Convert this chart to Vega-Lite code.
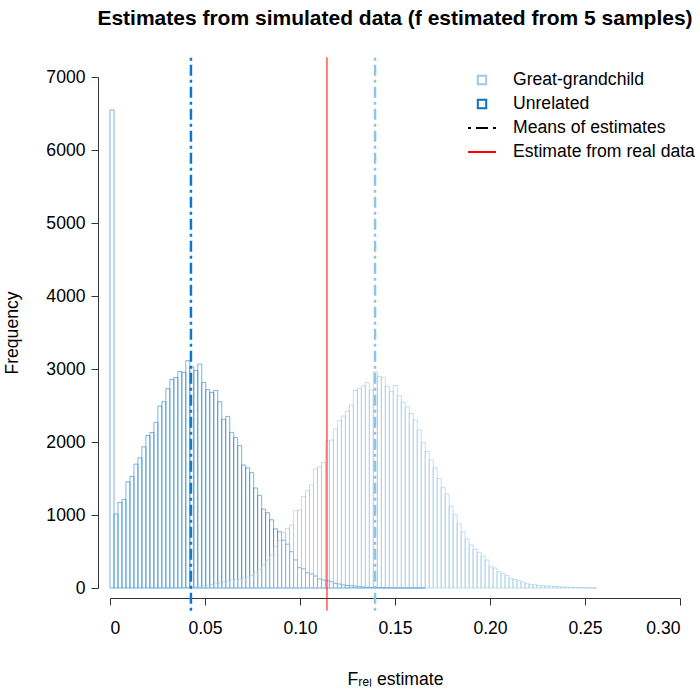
{
  "$schema": "https://vega.github.io/schema/vega-lite/v6.json",
  "autosize": {"type": "none"},
  "padding": {"left": 110, "top": 77, "right": 20, "bottom": 104},
  "width": 570,
  "height": 511,
  "title": {"text": "Estimates from simulated data (f estimated from 5 samples)", "font": "Liberation Sans", "fontSize": 21, "fontWeight": "bold", "color": "#000", "anchor": "middle", "offset": 27},
  "datasets": {
    "hist": [
      {"g":"Unrelated","x0":0,"x1":0.0021,"n":6550},
      {"g":"Unrelated","x0":0.0021,"x1":0.0042,"n":1014},
      {"g":"Unrelated","x0":0.0042,"x1":0.0063,"n":1172},
      {"g":"Unrelated","x0":0.0063,"x1":0.0084,"n":1215},
      {"g":"Unrelated","x0":0.0084,"x1":0.0105,"n":1455},
      {"g":"Unrelated","x0":0.0105,"x1":0.0126,"n":1530},
      {"g":"Unrelated","x0":0.0126,"x1":0.0147,"n":1697},
      {"g":"Unrelated","x0":0.0147,"x1":0.0168,"n":1783},
      {"g":"Unrelated","x0":0.0168,"x1":0.0189,"n":1934},
      {"g":"Unrelated","x0":0.0189,"x1":0.021,"n":2089},
      {"g":"Unrelated","x0":0.021,"x1":0.0231,"n":2130},
      {"g":"Unrelated","x0":0.0231,"x1":0.0252,"n":2270},
      {"g":"Unrelated","x0":0.0252,"x1":0.0273,"n":2493},
      {"g":"Unrelated","x0":0.0273,"x1":0.0294,"n":2552},
      {"g":"Unrelated","x0":0.0294,"x1":0.0315,"n":2730},
      {"g":"Unrelated","x0":0.0315,"x1":0.0336,"n":2858},
      {"g":"Unrelated","x0":0.0336,"x1":0.0357,"n":2884},
      {"g":"Unrelated","x0":0.0357,"x1":0.0378,"n":2965},
      {"g":"Unrelated","x0":0.0378,"x1":0.0399,"n":2954},
      {"g":"Unrelated","x0":0.0399,"x1":0.042,"n":3114},
      {"g":"Unrelated","x0":0.042,"x1":0.0441,"n":3030},
      {"g":"Unrelated","x0":0.0441,"x1":0.0462,"n":2980},
      {"g":"Unrelated","x0":0.0462,"x1":0.0483,"n":3068},
      {"g":"Unrelated","x0":0.0483,"x1":0.0504,"n":2815},
      {"g":"Unrelated","x0":0.0504,"x1":0.0525,"n":2717},
      {"g":"Unrelated","x0":0.0525,"x1":0.0546,"n":2680},
      {"g":"Unrelated","x0":0.0546,"x1":0.0567,"n":2705},
      {"g":"Unrelated","x0":0.0567,"x1":0.0588,"n":2552},
      {"g":"Unrelated","x0":0.0588,"x1":0.0609,"n":2311},
      {"g":"Unrelated","x0":0.0609,"x1":0.063,"n":2350},
      {"g":"Unrelated","x0":0.063,"x1":0.0651,"n":2132},
      {"g":"Unrelated","x0":0.0651,"x1":0.0672,"n":2060},
      {"g":"Unrelated","x0":0.0672,"x1":0.0693,"n":1950},
      {"g":"Unrelated","x0":0.0693,"x1":0.0714,"n":1685},
      {"g":"Unrelated","x0":0.0714,"x1":0.0735,"n":1645},
      {"g":"Unrelated","x0":0.0735,"x1":0.0756,"n":1580},
      {"g":"Unrelated","x0":0.0756,"x1":0.0777,"n":1370},
      {"g":"Unrelated","x0":0.0777,"x1":0.0798,"n":1270},
      {"g":"Unrelated","x0":0.0798,"x1":0.0819,"n":1080},
      {"g":"Unrelated","x0":0.0819,"x1":0.084,"n":1032},
      {"g":"Unrelated","x0":0.084,"x1":0.0861,"n":935},
      {"g":"Unrelated","x0":0.0861,"x1":0.0882,"n":810},
      {"g":"Unrelated","x0":0.0882,"x1":0.0903,"n":770},
      {"g":"Unrelated","x0":0.0903,"x1":0.0924,"n":655},
      {"g":"Unrelated","x0":0.0924,"x1":0.0945,"n":600},
      {"g":"Unrelated","x0":0.0945,"x1":0.0966,"n":497},
      {"g":"Unrelated","x0":0.0966,"x1":0.0987,"n":384},
      {"g":"Unrelated","x0":0.0987,"x1":0.1008,"n":278},
      {"g":"Unrelated","x0":0.1008,"x1":0.1029,"n":262},
      {"g":"Unrelated","x0":0.1029,"x1":0.105,"n":210},
      {"g":"Unrelated","x0":0.105,"x1":0.1071,"n":192},
      {"g":"Unrelated","x0":0.1071,"x1":0.1092,"n":164},
      {"g":"Unrelated","x0":0.1092,"x1":0.1113,"n":125},
      {"g":"Unrelated","x0":0.1113,"x1":0.1134,"n":110},
      {"g":"Unrelated","x0":0.1134,"x1":0.1155,"n":100},
      {"g":"Unrelated","x0":0.1155,"x1":0.1176,"n":85},
      {"g":"Unrelated","x0":0.1176,"x1":0.1197,"n":64},
      {"g":"Unrelated","x0":0.1197,"x1":0.1218,"n":55},
      {"g":"Unrelated","x0":0.1218,"x1":0.1239,"n":42},
      {"g":"Unrelated","x0":0.1239,"x1":0.126,"n":36},
      {"g":"Unrelated","x0":0.126,"x1":0.1281,"n":30},
      {"g":"Unrelated","x0":0.1281,"x1":0.1302,"n":25},
      {"g":"Unrelated","x0":0.1302,"x1":0.1323,"n":18},
      {"g":"Unrelated","x0":0.1323,"x1":0.1344,"n":14},
      {"g":"Unrelated","x0":0.1344,"x1":0.1365,"n":10},
      {"g":"Unrelated","x0":0.1365,"x1":0.1386,"n":8},
      {"g":"Unrelated","x0":0.1386,"x1":0.1407,"n":6},
      {"g":"Unrelated","x0":0.1407,"x1":0.1428,"n":5},
      {"g":"Unrelated","x0":0.1428,"x1":0.1449,"n":4},
      {"g":"Unrelated","x0":0.1449,"x1":0.147,"n":3},
      {"g":"Unrelated","x0":0.147,"x1":0.1491,"n":3},
      {"g":"Unrelated","x0":0.1491,"x1":0.1512,"n":2},
      {"g":"Unrelated","x0":0.1512,"x1":0.1533,"n":2},
      {"g":"Unrelated","x0":0.1533,"x1":0.1554,"n":1},
      {"g":"Unrelated","x0":0.1554,"x1":0.1575,"n":1},
      {"g":"Unrelated","x0":0.1575,"x1":0.1596,"n":1},
      {"g":"Unrelated","x0":0.1596,"x1":0.1617,"n":1},
      {"g":"Unrelated","x0":0.1617,"x1":0.1638,"n":1},
      {"g":"Unrelated","x0":0.1638,"x1":0.1659,"n":1},
      {"g":"Great-grandchild","x0":0.021,"x1":0.0231,"n":1},
      {"g":"Great-grandchild","x0":0.0231,"x1":0.0252,"n":1},
      {"g":"Great-grandchild","x0":0.0252,"x1":0.0273,"n":2},
      {"g":"Great-grandchild","x0":0.0273,"x1":0.0294,"n":2},
      {"g":"Great-grandchild","x0":0.0294,"x1":0.0315,"n":3},
      {"g":"Great-grandchild","x0":0.0315,"x1":0.0336,"n":4},
      {"g":"Great-grandchild","x0":0.0336,"x1":0.0357,"n":5},
      {"g":"Great-grandchild","x0":0.0357,"x1":0.0378,"n":6},
      {"g":"Great-grandchild","x0":0.0378,"x1":0.0399,"n":8},
      {"g":"Great-grandchild","x0":0.0399,"x1":0.042,"n":10},
      {"g":"Great-grandchild","x0":0.042,"x1":0.0441,"n":14},
      {"g":"Great-grandchild","x0":0.0441,"x1":0.0462,"n":18},
      {"g":"Great-grandchild","x0":0.0462,"x1":0.0483,"n":22},
      {"g":"Great-grandchild","x0":0.0483,"x1":0.0504,"n":30},
      {"g":"Great-grandchild","x0":0.0504,"x1":0.0525,"n":38},
      {"g":"Great-grandchild","x0":0.0525,"x1":0.0546,"n":48},
      {"g":"Great-grandchild","x0":0.0546,"x1":0.0567,"n":60},
      {"g":"Great-grandchild","x0":0.0567,"x1":0.0588,"n":70},
      {"g":"Great-grandchild","x0":0.0588,"x1":0.0609,"n":80},
      {"g":"Great-grandchild","x0":0.0609,"x1":0.063,"n":95},
      {"g":"Great-grandchild","x0":0.063,"x1":0.0651,"n":110},
      {"g":"Great-grandchild","x0":0.0651,"x1":0.0672,"n":120},
      {"g":"Great-grandchild","x0":0.0672,"x1":0.0693,"n":125},
      {"g":"Great-grandchild","x0":0.0693,"x1":0.0714,"n":135},
      {"g":"Great-grandchild","x0":0.0714,"x1":0.0735,"n":150},
      {"g":"Great-grandchild","x0":0.0735,"x1":0.0756,"n":175},
      {"g":"Great-grandchild","x0":0.0756,"x1":0.0777,"n":215},
      {"g":"Great-grandchild","x0":0.0777,"x1":0.0798,"n":250},
      {"g":"Great-grandchild","x0":0.0798,"x1":0.0819,"n":315},
      {"g":"Great-grandchild","x0":0.0819,"x1":0.084,"n":384},
      {"g":"Great-grandchild","x0":0.084,"x1":0.0861,"n":450},
      {"g":"Great-grandchild","x0":0.0861,"x1":0.0882,"n":566},
      {"g":"Great-grandchild","x0":0.0882,"x1":0.0903,"n":648},
      {"g":"Great-grandchild","x0":0.0903,"x1":0.0924,"n":758},
      {"g":"Great-grandchild","x0":0.0924,"x1":0.0945,"n":817},
      {"g":"Great-grandchild","x0":0.0945,"x1":0.0966,"n":863},
      {"g":"Great-grandchild","x0":0.0966,"x1":0.0987,"n":1059},
      {"g":"Great-grandchild","x0":0.0987,"x1":0.1008,"n":1068},
      {"g":"Great-grandchild","x0":0.1008,"x1":0.1029,"n":1251},
      {"g":"Great-grandchild","x0":0.1029,"x1":0.105,"n":1333},
      {"g":"Great-grandchild","x0":0.105,"x1":0.1071,"n":1411},
      {"g":"Great-grandchild","x0":0.1071,"x1":0.1092,"n":1630},
      {"g":"Great-grandchild","x0":0.1092,"x1":0.1113,"n":1662},
      {"g":"Great-grandchild","x0":0.1113,"x1":0.1134,"n":1717},
      {"g":"Great-grandchild","x0":0.1134,"x1":0.1155,"n":2014},
      {"g":"Great-grandchild","x0":0.1155,"x1":0.1176,"n":2027},
      {"g":"Great-grandchild","x0":0.1176,"x1":0.1197,"n":2178},
      {"g":"Great-grandchild","x0":0.1197,"x1":0.1218,"n":2292},
      {"g":"Great-grandchild","x0":0.1218,"x1":0.1239,"n":2356},
      {"g":"Great-grandchild","x0":0.1239,"x1":0.126,"n":2425},
      {"g":"Great-grandchild","x0":0.126,"x1":0.1281,"n":2507},
      {"g":"Great-grandchild","x0":0.1281,"x1":0.1302,"n":2708},
      {"g":"Great-grandchild","x0":0.1302,"x1":0.1323,"n":2735},
      {"g":"Great-grandchild","x0":0.1323,"x1":0.1344,"n":2767},
      {"g":"Great-grandchild","x0":0.1344,"x1":0.1365,"n":2813},
      {"g":"Great-grandchild","x0":0.1365,"x1":0.1386,"n":2712},
      {"g":"Great-grandchild","x0":0.1386,"x1":0.1407,"n":2963},
      {"g":"Great-grandchild","x0":0.1407,"x1":0.1428,"n":2895},
      {"g":"Great-grandchild","x0":0.1428,"x1":0.1449,"n":2886},
      {"g":"Great-grandchild","x0":0.1449,"x1":0.147,"n":2762},
      {"g":"Great-grandchild","x0":0.147,"x1":0.1491,"n":2694},
      {"g":"Great-grandchild","x0":0.1491,"x1":0.1512,"n":2774},
      {"g":"Great-grandchild","x0":0.1512,"x1":0.1533,"n":2635},
      {"g":"Great-grandchild","x0":0.1533,"x1":0.1554,"n":2544},
      {"g":"Great-grandchild","x0":0.1554,"x1":0.1575,"n":2480},
      {"g":"Great-grandchild","x0":0.1575,"x1":0.1596,"n":2390},
      {"g":"Great-grandchild","x0":0.1596,"x1":0.1617,"n":2303},
      {"g":"Great-grandchild","x0":0.1617,"x1":0.1638,"n":2166},
      {"g":"Great-grandchild","x0":0.1638,"x1":0.1659,"n":1995},
      {"g":"Great-grandchild","x0":0.1659,"x1":0.168,"n":1870},
      {"g":"Great-grandchild","x0":0.168,"x1":0.1701,"n":1755},
      {"g":"Great-grandchild","x0":0.1701,"x1":0.1722,"n":1648},
      {"g":"Great-grandchild","x0":0.1722,"x1":0.1743,"n":1500},
      {"g":"Great-grandchild","x0":0.1743,"x1":0.1764,"n":1380},
      {"g":"Great-grandchild","x0":0.1764,"x1":0.1785,"n":1288},
      {"g":"Great-grandchild","x0":0.1785,"x1":0.1806,"n":1120},
      {"g":"Great-grandchild","x0":0.1806,"x1":0.1827,"n":1006},
      {"g":"Great-grandchild","x0":0.1827,"x1":0.1848,"n":880},
      {"g":"Great-grandchild","x0":0.1848,"x1":0.1869,"n":770},
      {"g":"Great-grandchild","x0":0.1869,"x1":0.189,"n":670},
      {"g":"Great-grandchild","x0":0.189,"x1":0.1911,"n":590},
      {"g":"Great-grandchild","x0":0.1911,"x1":0.1932,"n":530},
      {"g":"Great-grandchild","x0":0.1932,"x1":0.1953,"n":489},
      {"g":"Great-grandchild","x0":0.1953,"x1":0.1974,"n":438},
      {"g":"Great-grandchild","x0":0.1974,"x1":0.1995,"n":384},
      {"g":"Great-grandchild","x0":0.1995,"x1":0.2016,"n":292},
      {"g":"Great-grandchild","x0":0.2016,"x1":0.2037,"n":274},
      {"g":"Great-grandchild","x0":0.2037,"x1":0.2058,"n":224},
      {"g":"Great-grandchild","x0":0.2058,"x1":0.2079,"n":201},
      {"g":"Great-grandchild","x0":0.2079,"x1":0.21,"n":169},
      {"g":"Great-grandchild","x0":0.21,"x1":0.2121,"n":128},
      {"g":"Great-grandchild","x0":0.2121,"x1":0.2142,"n":119},
      {"g":"Great-grandchild","x0":0.2142,"x1":0.2163,"n":105},
      {"g":"Great-grandchild","x0":0.2163,"x1":0.2184,"n":82},
      {"g":"Great-grandchild","x0":0.2184,"x1":0.2205,"n":59},
      {"g":"Great-grandchild","x0":0.2205,"x1":0.2226,"n":50},
      {"g":"Great-grandchild","x0":0.2226,"x1":0.2247,"n":46},
      {"g":"Great-grandchild","x0":0.2247,"x1":0.2268,"n":36},
      {"g":"Great-grandchild","x0":0.2268,"x1":0.2289,"n":32},
      {"g":"Great-grandchild","x0":0.2289,"x1":0.231,"n":30},
      {"g":"Great-grandchild","x0":0.231,"x1":0.2331,"n":27},
      {"g":"Great-grandchild","x0":0.2331,"x1":0.2352,"n":22},
      {"g":"Great-grandchild","x0":0.2352,"x1":0.2373,"n":18},
      {"g":"Great-grandchild","x0":0.2373,"x1":0.2394,"n":14},
      {"g":"Great-grandchild","x0":0.2394,"x1":0.2415,"n":12},
      {"g":"Great-grandchild","x0":0.2415,"x1":0.2436,"n":10},
      {"g":"Great-grandchild","x0":0.2436,"x1":0.2457,"n":8},
      {"g":"Great-grandchild","x0":0.2457,"x1":0.2478,"n":6},
      {"g":"Great-grandchild","x0":0.2478,"x1":0.2499,"n":5},
      {"g":"Great-grandchild","x0":0.2499,"x1":0.252,"n":4},
      {"g":"Great-grandchild","x0":0.252,"x1":0.2541,"n":3},
      {"g":"Great-grandchild","x0":0.2541,"x1":0.2562,"n":2}
    ],
    "means": [
      {"g": "Unrelated", "m": 0.0426},
      {"g": "Great-grandchild", "m": 0.1395}
    ],
    "real": [{"v": 0.1142}],
    "keys": [
      {"entry": "Great-grandchild"},
      {"entry": "Unrelated"},
      {"entry": "Means of estimates"},
      {"entry": "Estimate from real data"}
    ]
  },
  "layer": [
    {
      "data": {"name": "hist"},
      "mark": {"type": "rect", "filled": false, "strokeWidth": 1, "strokeOpacity": 0.55},
      "encoding": {
        "x": {"field": "x0", "type": "quantitative", "scale": {"domain": [0, 0.3], "nice": false, "zero": false, "padding": 0},
              "title": "Fᵣₑₗ estimate",
              "axis": {"values": [0, 0.05, 0.1, 0.15, 0.2, 0.25, 0.3], "labelExpr": "datum.value == 0 ? '0' : format(datum.value, '.2f')", "offset": 10, "tickSize": 7, "labelPadding": 14, "titlePadding": 34}},
        "x2": {"field": "x1"},
        "y": {"field": "n", "type": "quantitative", "scale": {"domain": [0, 7000], "nice": false, "padding": 0},
              "title": "Frequency",
              "axis": {"values": [0, 1000, 2000, 3000, 4000, 5000, 6000, 7000], "format": "d", "offset": 12, "tickSize": 7, "labelPadding": 6, "titlePadding": 24}},
        "y2": {"datum": 0},
        "stroke": {"field": "g", "type": "nominal", "scale": {"domain": ["Unrelated", "Great-grandchild"], "range": ["#0a7ad0", "#8fc4e4"]}, "legend": null}
      }
    },
    {
      "data": {"name": "means"},
      "mark": {"type": "rule", "strokeWidth": 2.5, "strokeDash": [3, 4, 11, 4]},
      "encoding": {
        "x": {"field": "m", "type": "quantitative", "title": "Fᵣₑₗ estimate"},
        "y": {"datum": -310, "type": "quantitative"},
        "y2": {"datum": 7270},
        "stroke": {"field": "g", "type": "nominal", "legend": null}
      }
    },
    {
      "data": {"name": "real"},
      "mark": {"type": "rule", "strokeWidth": 1, "color": "#ff0000"},
      "encoding": {
        "x": {"field": "v", "type": "quantitative", "title": "Fᵣₑₗ estimate"},
        "y": {"datum": -310, "type": "quantitative"},
        "y2": {"datum": 7270}
      }
    },
    {
      "data": {"name": "keys"},
      "mark": {"type": "point", "filled": false, "opacity": 0, "size": 784},
      "encoding": {
        "color": {"field": "entry", "type": "nominal", "sort": null,
                  "scale": {"domain": ["Great-grandchild", "Unrelated", "Means of estimates", "Estimate from real data"], "range": ["#9ecae1", "#0a74bd", "#000000", "#ff0000"]},
                  "legend": {"title": null, "orient": "none", "legendX": 357, "legendY": -12, "symbolSize": 784, "symbolStrokeWidth": 2, "symbolOpacity": 1, "labelFontSize": 17.6, "labelFont": "Liberation Sans", "labelColor": "#000", "labelOffset": 16, "labelLimit": 400, "rowPadding": -9}},
        "shape": {"field": "entry", "type": "nominal", "sort": null,
                  "scale": {"domain": ["Great-grandchild", "Unrelated", "Means of estimates", "Estimate from real data"], "range": ["M-0.3,-0.3L0.3,-0.3L0.3,0.3L-0.3,0.3Z", "M-0.3,-0.3L0.3,-0.3L0.3,0.3L-0.3,0.3Z", "M-1,0L1,0", "M-1,0L1,0"]}},
        "strokeDash": {"field": "entry", "type": "nominal", "sort": null,
                  "scale": {"domain": ["Great-grandchild", "Unrelated", "Means of estimates", "Estimate from real data"], "range": [[1, 0], [1, 0], [3, 5, 12, 5], [1, 0]]}}
      }
    }
  ],
  "config": {
    "font": "Liberation Sans",
    "view": {"stroke": null},
    "axis": {"grid": false, "labelFont": "Liberation Sans", "titleFont": "Liberation Sans", "labelFontSize": 17.6, "titleFontSize": 17.6, "titleFontWeight": "normal", "labelColor": "#000", "titleColor": "#000", "domainColor": "#333", "tickColor": "#333", "domainWidth": 1, "tickWidth": 1},
    "axisY": {"labelAngle": 0}
  }
}
